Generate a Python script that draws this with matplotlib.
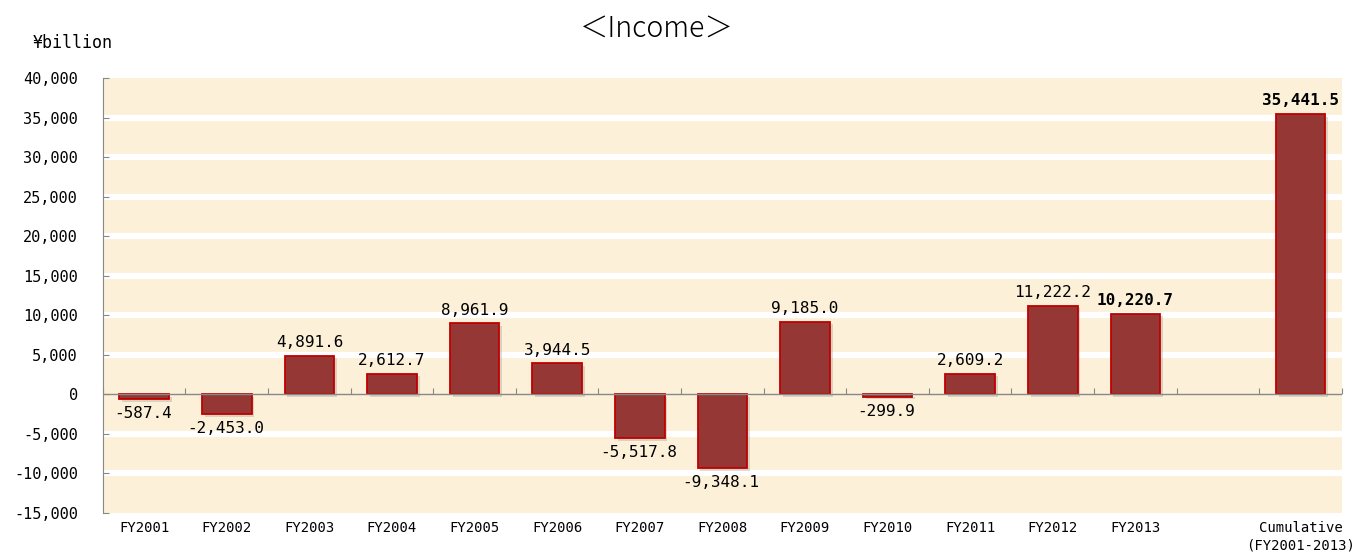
import numpy as np
import matplotlib
matplotlib.use("Agg")
import matplotlib.pyplot as plt
from matplotlib.patheffects import SimplePatchShadow, Normal
from matplotlib.ticker import FuncFormatter

categories = ["FY2001", "FY2002", "FY2003", "FY2004", "FY2005", "FY2006", "FY2007",
              "FY2008", "FY2009", "FY2010", "FY2011", "FY2012", "FY2013", "",
              "Cumulative\n(FY2001-2013)"]
values = [-587.4, -2453.0, 4891.6, 2612.7, 8961.9, 3944.5, -5517.8,
          -9348.1, 9185.0, -299.9, 2609.2, 11222.2, 10220.7, np.nan, 35441.5]
y_ticks = list(range(-15000, 40001, 5000))
title = "＜Income＞"
unit_label = "¥billion"

bold_labels = {"FY2013", "Cumulative\n(FY2001-2013)"}

MONO = "DejaVu Sans Mono"

fig = plt.figure(figsize=(13.54, 5.52), dpi=100)
ax = fig.add_axes([0.076, 0.0707, 0.915, 0.788])

x = np.arange(len(categories))
ymin, ymax = y_ticks[0], y_ticks[-1]
ax.set_xlim(-0.5, len(categories) - 0.5)
ax.set_ylim(ymin, ymax)

# background
ax.set_facecolor("#FCF0D8")
for t in y_ticks[1:-1]:
    if t != 0:
        ax.axhline(t, color="white", lw=4.5, zorder=0.5)

bars = ax.bar(x, values, width=0.6, color="#953735", edgecolor="#C00000",
              linewidth=1.3, zorder=3)
for b in bars:
    b.set_path_effects([SimplePatchShadow(offset=(2, -2), shadow_rgbFace="#777777", alpha=0.25), Normal()])

ax.axhline(0, color="#888888", lw=1.0, zorder=4)

for xi, v, c in zip(x, values, categories):
    if np.isnan(v):
        continue
    txt = f"{v:,.1f}"
    weight = "bold" if c in bold_labels else "normal"
    if v >= 0:
        ax.annotate(txt, (xi, v), xytext=(0, 4), textcoords="offset points",
                    ha="center", va="bottom", fontsize=11.5, family=MONO,
                    fontweight=weight, zorder=5)
    else:
        ax.annotate(txt, (xi, v), xytext=(-1, -5), textcoords="offset points",
                    ha="center", va="top", fontsize=11.5, family=MONO,
                    fontweight=weight, zorder=5)

# axes styling
for s in ["top", "right", "bottom"]:
    ax.spines[s].set_visible(False)
ax.spines["left"].set_color("#888888")
ax.set_yticks(y_ticks)
ax.yaxis.set_major_formatter(FuncFormatter(lambda v, p: f"{int(v):,}"))
ax.tick_params(axis="y", direction="in", length=4, color="#888888",
               labelsize=11, pad=18)
for lab in ax.get_yticklabels():
    lab.set_family(MONO)

ax.set_xticks(x)
ax.set_xticklabels(categories, family=MONO, fontsize=10, linespacing=1.3)
ax.tick_params(axis="x", length=0, pad=6)

# small category-boundary ticks on zero line
zero_loc = (0 - ymin) / (ymax - ymin)
sec = ax.secondary_xaxis(zero_loc)
sec.set_xticks(np.arange(len(categories) + 1) - 0.5)
sec.set_xticklabels([])
sec.tick_params(direction="in", length=4, color="#888888")
sec.spines["bottom"].set_visible(False)

fig.text(0.485, 0.948, title, ha="center", va="center", fontsize=20.5,
         family=["Noto Sans CJK JP", "DejaVu Sans"], fontweight="light")
fig.text(0.024, 0.922, unit_label, ha="left", va="center", fontsize=12,
         family=[MONO, "Noto Sans CJK JP"])

fig.savefig("out.png", dpi=100)
